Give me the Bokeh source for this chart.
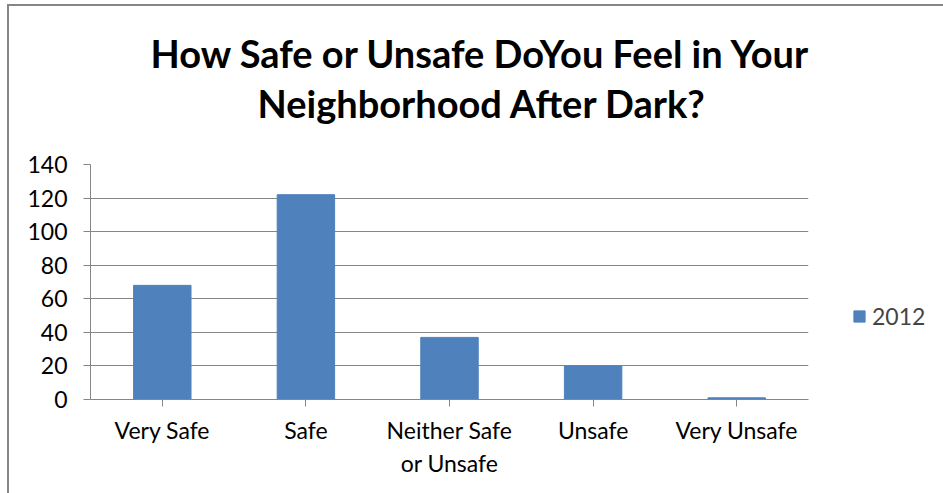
from bokeh.plotting import figure
from bokeh.models import Title, Legend, LegendItem, FixedTicker, Range1d, FactorRange
from bokeh.embed import file_html
from bokeh.resources import INLINE

# Survey responses
categories = ["Very Safe", "Safe", "Neither Safe\nor Unsafe", "Unsafe", "Very Unsafe"]
counts_2012 = [68, 122, 37, 20, 1]
series_name = "2012"
y_ticks = [0, 20, 40, 60, 80, 100, 120, 140]
title_lines = ["How Safe or Unsafe DoYou Feel in Your", "Neighborhood After Dark?"]

FONT = "Lato"
GRAY = "#868686"
BAR = "#4F81BD"

p = figure(
    width=935, height=487,
    frame_width=718, frame_height=235,
    x_range=FactorRange(*categories, range_padding=0),
    y_range=Range1d(0, 140),
    output_backend="svg", toolbar_location=None,
    min_border_left=81, min_border_right=136,
    min_border_top=158, min_border_bottom=94,
)
p.outline_line_color = None
p.background_fill_color = "white"
p.border_fill_color = "white"

r = p.vbar(x=categories, top=counts_2012, width=0.4,
           fill_color=BAR, line_color=BAR)

# axes
p.yaxis.ticker = FixedTicker(ticks=y_ticks)
for ax in (p.xaxis[0], p.yaxis[0]):
    ax.axis_line_color = GRAY
    ax.major_tick_line_color = GRAY
    ax.minor_tick_line_color = None
    ax.major_tick_in = 0
    ax.major_tick_out = 7
    ax.major_label_text_font = FONT
    ax.major_label_text_font_size = "23px"
    ax.major_label_text_color = "#000000"
p.yaxis.major_label_standoff = 16
p.xaxis.major_label_standoff = 9

p.xgrid.grid_line_color = None
p.ygrid.grid_line_color = GRAY
p.ygrid.grid_line_width = 1

# two-line title: the figure title is the outer (first) line,
# the added Title sits next to the frame
def style_title(t, text, offset, standoff):
    t.text = text
    t.align = "left"
    t.offset = offset
    t.standoff = standoff
    t.text_font = FONT
    t.text_font_style = "bold"
    t.text_font_size = "38px"
    t.text_color = "#000000"

style_title(p.title, title_lines[0], 60, -74)
second_line = Title()
style_title(second_line, title_lines[1], 167, 78)
p.add_layout(second_line, "above")

legend = Legend(items=[LegendItem(label=series_name, renderers=[r])],
                location=(44, 69))
legend.border_line_color = None
legend.background_fill_alpha = 0
legend.label_text_font = FONT
legend.label_text_font_size = "23px"
legend.glyph_width = 14
legend.glyph_height = 14
legend.padding = 0
legend.margin = 0
legend.label_standoff = 6
p.add_layout(legend, "right")

p.styles = {"border-left": "2px solid #868686", "border-top": "2px solid #868686",
            "margin-left": "7px", "margin-top": "4px"}

open("out.html", "w").write(file_html(p, INLINE))
